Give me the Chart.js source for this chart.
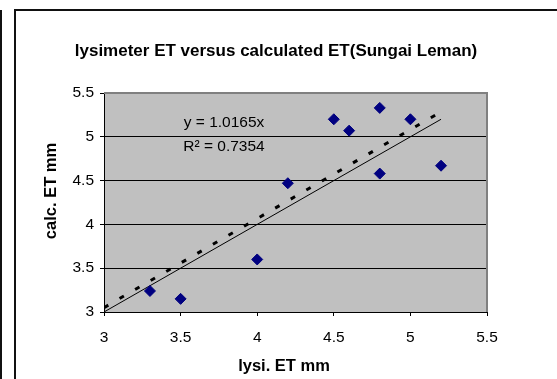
<!DOCTYPE html>
<html>
<head>
<meta charset="utf-8">
<script src="https://cdn.jsdelivr.net/npm/chart.js@4/dist/chart.umd.min.js"></script>
<style>
  html, body { margin: 0; padding: 0; background: #fff; }
  canvas { display: block; }
</style>
</head>
<body>
<canvas id="et-chart" width="557" height="379"></canvas>
<script>
// lysimeter ET (x) vs calculated ET (y), mm
const lysiET = [3.3, 3.5, 4.0, 4.2, 4.5, 4.6, 4.8, 4.8, 5.0, 5.2];
const calcET = [3.24, 3.15, 3.6, 4.47, 5.2, 5.07, 5.33, 4.58, 5.2, 4.67];

// 1:1 line and trendline (y = 1.0165x) end points
const oneToOneX = [3, 5.2];
const oneToOneY = [3, 5.2];
const trendX = [3, 5.2];
const trendY = [3.05, 5.286];

const axisTicks = [3, 3.5, 4, 4.5, 5, 5.5];

const chartTitle = 'lysimeter ET versus calculated ET(Sungai Leman)';
const xTitle = 'lysi. ET mm';
const yTitle = 'calc. ET mm';
const eqLine1 = 'y = 1.0165x';
const eqLine2 = 'R² = 0.7354';

const FONT = '"Liberation Sans", Arial, sans-serif';

const toXY = (xs, ys) => xs.map((x, i) => ({ x: x, y: ys[i] }));

// background, frame, plot border and the free text
const decor = {
    id: 'decor',
    beforeDraw(chart) {
        const { ctx, chartArea: a } = chart;
        ctx.save();
        ctx.fillStyle = '#c0c0c0';
        ctx.fillRect(a.left, a.top, a.right - a.left, a.bottom - a.top);

        // outer frame (runs off the right / bottom edge)
        ctx.strokeStyle = '#111';
        ctx.lineWidth = 2;
        ctx.beginPath();
        ctx.moveTo(15, 400);
        ctx.lineTo(15, 10);
        ctx.lineTo(600, 10);
        ctx.stroke();
        ctx.beginPath();
        ctx.moveTo(1, 10);
        ctx.lineTo(1, 400);
        ctx.stroke();
        ctx.restore();
    },
    beforeDatasetsDraw(chart) {
        const { ctx, chartArea: a } = chart;
        ctx.save();
        ctx.strokeStyle = '#808080';
        ctx.lineWidth = 2;
        ctx.beginPath();
        ctx.moveTo(a.left, a.top);
        ctx.lineTo(a.right, a.top);
        ctx.lineTo(a.right, a.bottom);
        ctx.stroke();
        ctx.restore();
    },
    afterDraw(chart) {
        const { ctx } = chart;
        ctx.save();
        ctx.fillStyle = '#000';
        ctx.textAlign = 'center';
        ctx.textBaseline = 'middle';

        ctx.font = 'bold 17px ' + FONT;
        ctx.fillText(chartTitle, 276, 51);

        ctx.font = 'bold 16.5px ' + FONT;
        ctx.fillText(xTitle, 284, 366);
        ctx.save();
        ctx.translate(51, 191);
        ctx.rotate(-Math.PI / 2);
        ctx.fillText(yTitle, 0, 0);
        ctx.restore();

        ctx.font = '15.5px ' + FONT;
        ctx.fillText(eqLine1, 224, 123);
        ctx.fillText(eqLine2, 224, 147);
        ctx.restore();
    }
};

new Chart(document.getElementById('et-chart'), {
    type: 'scatter',
    data: {
        datasets: [
            {
                label: 'ET',
                data: toXY(lysiET, calcET),
                pointStyle: 'rectRot',
                pointRadius: 5.5,
                pointHoverRadius: 5.5,
                backgroundColor: '#000080',
                borderColor: '#000080',
                borderWidth: 1
            },
            {
                label: '1:1',
                data: toXY(oneToOneX, oneToOneY),
                showLine: true,
                borderColor: '#000',
                borderWidth: 1,
                pointRadius: 0
            },
            {
                label: 'trend',
                data: toXY(trendX, trendY),
                showLine: true,
                borderColor: '#000',
                borderWidth: 3,
                borderDash: [5, 13],
                pointRadius: 0
            }
        ]
    },
    options: {
        responsive: false,
        animation: false,
        layout: { padding: { left: 0, top: 93, right: 70, bottom: 0 } },
        plugins: {
            legend: { display: false },
            title: { display: false },
            tooltip: { enabled: false }
        },
        scales: {
            x: {
                type: 'linear',
                min: 3,
                max: 5.5,
                afterBuildTicks: s => { s.ticks = axisTicks.map(v => ({ value: v })); },
                afterFit: s => { s.height = 67; },
                ticks: {
                    color: '#000',
                    padding: 12,
                    maxRotation: 0,
                    callback: v => String(v),
                    font: { family: FONT, size: 15.5 }
                },
                grid: {
                    drawOnChartArea: false,
                    tickLength: 4,
                    tickColor: '#000'
                },
                border: { color: '#000', width: 1 }
            },
            y: {
                type: 'linear',
                min: 3,
                max: 5.5,
                afterBuildTicks: s => { s.ticks = axisTicks.map(v => ({ value: v })); },
                afterFit: s => { s.width = 104; },
                ticks: {
                    color: '#000',
                    padding: 6,
                    callback: v => String(v),
                    font: { family: FONT, size: 15.5 }
                },
                grid: {
                    color: c => (c.tick && (c.tick.value === 5.5 || c.tick.value === 3)) ? 'rgba(0,0,0,0)' : '#000',
                    lineWidth: 1,
                    tickLength: 4,
                    tickColor: '#000'
                },
                border: { color: '#000', width: 1 }
            }
        }
    },
    plugins: [decor]
});
</script>
</body>
</html>
